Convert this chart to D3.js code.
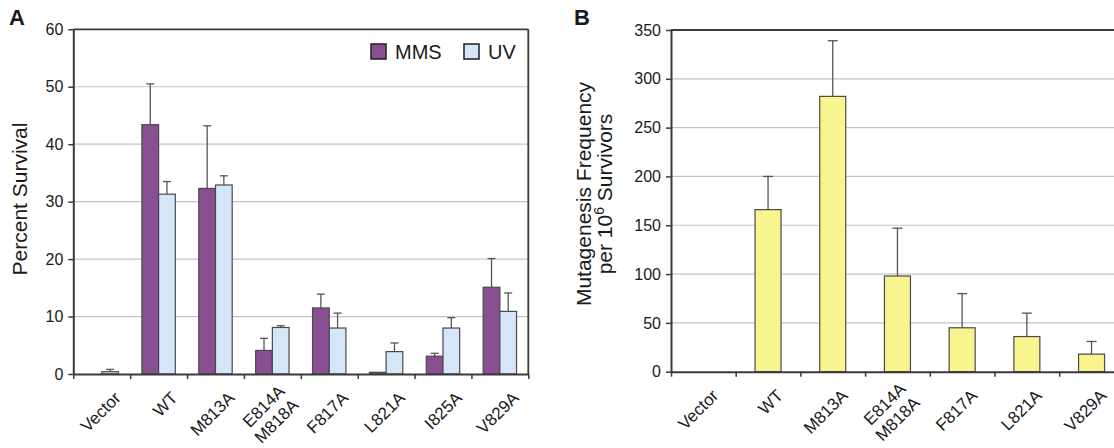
<!DOCTYPE html>
<html>
<head>
<meta charset="utf-8">
<script src="https://cdn.jsdelivr.net/npm/d3@7"></script>
<style>
  body { margin: 0; background: #fff; }
  text { font-family: "Liberation Sans", Arial, sans-serif; fill: #1a1a1a; }
</style>
</head>
<body>
<svg id="chart" width="1114" height="448"></svg>
<script>
const width = 1114;
const height = 448;

// panel A: percent survival
const categoriesA = ["Vector", "WT", "M813A", "E814A\nM818A", "F817A", "L821A", "I825A", "V829A"];
const mms = [0, 43.4, 32.3, 4.1, 11.5, 0.3, 3.1, 15.1];
const mmsErr = [0, 7.1, 10.9, 2.1, 2.4, 0, 0.5, 5.0];
const uv = [0.4, 31.3, 32.9, 8.1, 8.0, 3.9, 8.0, 10.9];
const uvErr = [0.4, 2.2, 1.6, 0.3, 2.6, 1.5, 1.8, 3.2];
const ticksA = [0, 10, 20, 30, 40, 50, 60];

// panel B: mutagenesis frequency
const categoriesB = ["Vector", "WT", "M813A", "E814A\nM818A", "F817A", "L821A", "V829A"];
const freq = [0, 166, 282, 98, 45, 36, 18];
const freqErr = [0, 34, 57, 49, 35, 24, 13];
const ticksB = [0, 50, 100, 150, 200, 250, 300, 350];

const colMMS = "#8a4e92";
const colUV = "#d5e6f8";
const colB = "#f8f48e";
const dark = "#3a3a3a";
const gridCol = "#c4c4c4";

const svg = d3.select("#chart");

function panel(cfg) {
  const g = svg.append("g");
  const n = cfg.categories.length;
  const x = d3.scaleBand().domain(d3.range(n)).range([cfg.left, cfg.left + n * cfg.band]);
  const xi = d3.scaleLinear().domain([0, n]).range([cfg.left, cfg.left + n * cfg.band]);
  const y = d3.scaleLinear().domain([0, cfg.max]).range([cfg.bottom, cfg.top]);

  // gridlines
  g.append("g")
    .selectAll("line")
    .data(cfg.ticks.filter(t => t > 0 && t < cfg.max))
    .enter()
    .append("line")
    .attr("x1", cfg.left)
    .attr("x2", cfg.right)
    .attr("y1", d => y(d))
    .attr("y2", d => y(d))
    .attr("stroke", gridCol)
    .attr("stroke-width", 1.2);

  // border top / right
  g.append("line")
    .attr("x1", cfg.left).attr("x2", cfg.right)
    .attr("y1", y(cfg.max)).attr("y2", y(cfg.max))
    .attr("stroke", dark).attr("stroke-width", 1.8);
  if (cfg.right < width) {
    g.append("line")
      .attr("x1", cfg.right).attr("x2", cfg.right)
      .attr("y1", y(cfg.max)).attr("y2", y(0))
      .attr("stroke", dark).attr("stroke-width", 1.8);
  }

  // bars + error bars (upper only)
  cfg.series.forEach((s, si) => {
    const k = cfg.series.length;
    const sub = d3.scaleBand().domain(d3.range(k)).range([0, cfg.barW * k]);
    const off = i => x(i) + x.bandwidth() / 2 - (cfg.barW * k) / 2 + sub(si);
    const rows = s.values.map((v, i) => ({ i, v, e: s.err[i] }));

    const eb = g.append("g")
      .selectAll("g")
      .data(rows.filter(r => r.e > 0))
      .enter()
      .append("g")
      .attr("stroke", "#555")
      .attr("stroke-width", 1.3);
    eb.append("line")
      .attr("x1", r => off(r.i) + cfg.barW / 2)
      .attr("x2", r => off(r.i) + cfg.barW / 2)
      .attr("y1", r => y(r.v))
      .attr("y2", r => y(r.v + r.e));
    eb.append("line")
      .attr("x1", r => off(r.i) + cfg.barW / 2 - cfg.cap)
      .attr("x2", r => off(r.i) + cfg.barW / 2 + cfg.cap)
      .attr("y1", r => y(r.v + r.e))
      .attr("y2", r => y(r.v + r.e));

    g.append("g")
      .selectAll("rect")
      .data(rows)
      .enter()
      .append("rect")
      .attr("x", r => off(r.i))
      .attr("y", r => y(r.v))
      .attr("width", cfg.barW)
      .attr("height", r => y(0) - y(r.v))
      .attr("fill", s.color)
      .attr("stroke", "#4a4a4a")
      .attr("stroke-width", 1.2);
  });

  // y axis
  const ya = g.append("g")
    .attr("transform", `translate(${cfg.left},0)`)
    .call(d3.axisLeft(y).tickValues(cfg.ticks).tickSize(5).tickSizeOuter(0).tickPadding(5));
  ya.select(".domain").attr("stroke", dark).attr("stroke-width", 2);
  ya.selectAll(".tick line").attr("stroke", dark).attr("stroke-width", 1.5);
  ya.selectAll(".tick text").style("font-size", "16px").style("font-family", "Liberation Sans, Arial, sans-serif").attr("fill", "#222");

  // x axis: ticks at category boundaries
  const xa = g.append("g")
    .attr("transform", `translate(0,${cfg.bottom})`)
    .call(d3.axisBottom(xi).tickValues(d3.range(n + 1)).tickSize(5).tickSizeOuter(0).tickFormat(""));
  xa.select(".domain").attr("stroke", dark).attr("stroke-width", 2);
  xa.selectAll(".tick line").attr("stroke", dark).attr("stroke-width", 1.5);

  // category labels, rotated
  g.append("g")
    .selectAll("text")
    .data(cfg.categories)
    .enter()
    .append("text")
    .attr("text-anchor", "end")
    .attr("transform", (d, i) => `translate(${x(i) + x.bandwidth() / 2 + cfg.labDx},${cfg.bottom + cfg.labDy}) rotate(-45)`)
    .style("font-size", "17px")
    .each(function (d) {
      const lines = d.split("\n");
      const t = d3.select(this);
      lines.forEach((ln, k) => {
        t.append("tspan").attr("x", 0).attr("dy", k === 0 ? `${-(lines.length - 1) * 0.55}em` : "1.15em").text(ln);
      });
    });

  // panel letter
  g.append("text")
    .attr("x", cfg.letterX)
    .attr("y", 25)
    .style("font-size", "22px")
    .style("font-weight", "bold")
    .attr("fill", "#111")
    .text(cfg.letter);

  return { g, x, y };
}

const A = panel({
  categories: categoriesA,
  left: 73.3, band: 56.875, right: 528.3, top: 29.3, bottom: 374,
  max: 60, ticks: ticksA, barW: 16.7, cap: 4,
  series: [
    { values: mms, err: mmsErr, color: colMMS },
    { values: uv, err: uvErr, color: colUV }
  ],
  labDx: 20, labDy: 25, letter: "A", letterX: 9
});

A.g.append("text")
  .attr("transform", "translate(27,199) rotate(-90)")
  .attr("text-anchor", "middle")
  .style("font-size", "21px")
  .text("Percent Survival");

// legend
const legend = A.g.append("g");
[["MMS", colMMS, 371], ["UV", colUV, 464]].forEach(([name, c, lx]) => {
  legend.append("rect")
    .attr("x", lx).attr("y", 44).attr("width", 15).attr("height", 15)
    .attr("fill", c).attr("stroke", "#2a2a2a").attr("stroke-width", 1.6);
  legend.append("text")
    .attr("x", lx + 24).attr("y", 58.5)
    .style("font-size", "20px")
    .text(name);
});

const B = panel({
  categories: categoriesB,
  left: 671, band: 64.7, right: 1130, top: 30, bottom: 371.7,
  max: 350, ticks: ticksB, barW: 26, cap: 5,
  series: [{ values: freq, err: freqErr, color: colB }],
  labDx: 16, labDy: 25, letter: "B", letterX: 574
});

const bt = B.g.append("text")
  .attr("transform", "translate(591,194) rotate(-90)")
  .attr("text-anchor", "middle")
  .style("font-size", "21px");
bt.append("tspan").attr("x", 0).attr("dy", 0).text("Mutagenesis Frequency");
const l2 = bt.append("tspan").attr("x", 0).attr("dy", 21);
l2.append("tspan").text("per 10");
l2.append("tspan").attr("dy", -8).style("font-size", "14px").text("6");
l2.append("tspan").attr("dy", 8).text(" Survivors");
</script>
</body>
</html>
